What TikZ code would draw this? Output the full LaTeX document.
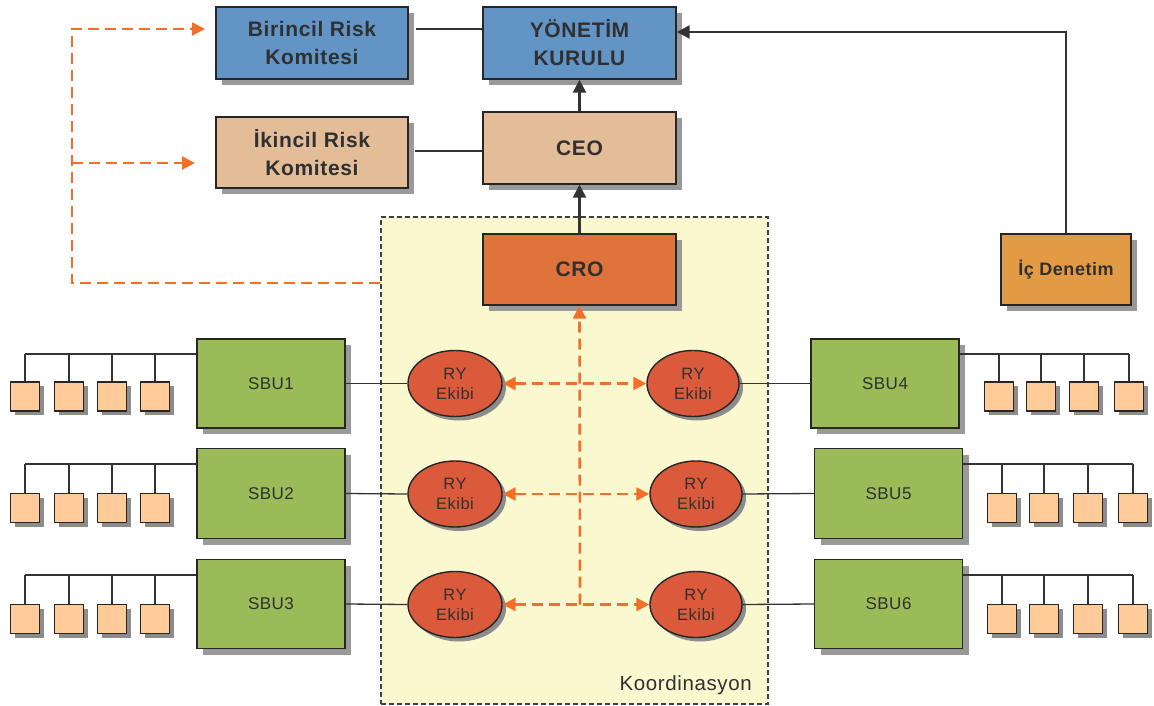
\documentclass[tikz,border=0pt]{standalone}
\usepackage{fontspec}
\setmainfont{Liberation Sans}[LetterSpace=3]
\usetikzlibrary{shadows,arrows.meta,shapes.geometric,calc}
\definecolor{cblue}{HTML}{6394C6}
\definecolor{cpeach}{HTML}{E3BD98}
\definecolor{ccro}{HTML}{DE733C}
\definecolor{cic}{HTML}{E29A45}
\definecolor{cgreen}{HTML}{9BBB59}
\definecolor{csq}{HTML}{FFCC99}
\definecolor{cell}{HTML}{DC5A3C}
\definecolor{cyel}{HTML}{FAF8CF}
\definecolor{corange}{HTML}{F26F2A}
\definecolor{ctext}{HTML}{303030}
\definecolor{cline}{HTML}{333333}
\tikzset{
  shad/.style={general shadow={shadow xshift=6pt,shadow yshift=-6pt,fill=black!40}},
  sshad/.style={general shadow={shadow xshift=4pt,shadow yshift=-4pt,fill=black!45}},
  topbox/.style={draw=black!85,line width=1.4pt,shad,text=ctext,align=center,
    font=\fontsize{21}{28}\selectfont\bfseries,inner sep=0pt},
  sbubox/.style={draw=black!85,line width=1.4pt,shad,fill=cgreen,text=ctext,
    font=\fontsize{17}{20}\selectfont,minimum width=148pt,inner sep=0pt},
  sq/.style={draw=black!85,line width=1.3pt,sshad,fill=csq,minimum width=29pt,minimum height=29pt,inner sep=0pt},
  ry/.style={ellipse,draw=black!85,line width=1.4pt,sshad,fill=cell,text=ctext,align=center,
    font=\fontsize{16.5}{20}\selectfont,minimum height=66pt,inner sep=0pt},
  conn/.style={draw=cline,line width=1.3pt},
  barrow/.style={draw=cline,line width=2.5pt,-{Triangle[length=13pt,width=13pt]}},
  odash/.style={draw=corange,line width=2.6pt,dash pattern=on 11pt off 6pt},
  otip/.style={-{Triangle[length=13pt,width=13pt]}},
}
\begin{document}
\begin{tikzpicture}[x=1pt,y=-1pt]
\useasboundingbox (0,0) rectangle (1154,706);
% coordination area
\node[draw=black!75,line width=1.3pt,dash pattern=on 5pt off 3pt,fill=cyel,
  minimum width=387pt,minimum height=487pt,inner sep=0pt] (koord) at (574.5,460.5) {};
\node[anchor=south east,text=ctext,font=\fontsize{20.5}{22}\selectfont,inner sep=0pt] (klab) at (752,695) {Koordinasyon};
% top nodes
\node[topbox,fill=cblue,minimum width=192pt,minimum height=72pt] (bir) at (312,43) {Birincil Risk\\Komitesi};
\node[topbox,fill=cblue,minimum width=193pt,minimum height=72pt] (yk) at (579.5,43) {YÖNETİM\\KURULU};
\node[topbox,fill=cpeach,minimum width=192pt,minimum height=71pt] (ik) at (312,152.5) {İkincil Risk\\Komitesi};
\node[topbox,fill=cpeach,minimum width=193pt,minimum height=72pt] (ceo) at (579.5,148) {CEO};
\node[topbox,fill=ccro,minimum width=193pt,minimum height=71pt] (cro) at (579.5,269.5) {CRO};
\node[topbox,fill=cic,minimum width=130pt,minimum height=71pt,font=\fontsize{18}{20}\selectfont\bfseries] (ic) at (1066,269.5) {İç Denetim};
% top connectors
\draw[conn] (bir.east |- 0,29) ++(7,0) coordinate (b1) -- (yk.west |- b1);
\draw[conn] (ik.east |- 0,151) ++(6,0) coordinate (b2) -- (yk.west |- b2);
\draw[barrow] (ceo.north) -- (yk.south);
\draw[barrow] (cro.north) -- (ceo.south);
\draw[barrow] (ic.north) |- (yk.east |- 0,32);
% orange dashed to committees
\coordinate (oS) at (koord.west |- 0,283);
\coordinate (oC) at (72,283);
\coordinate (oT) at (72,29);
\coordinate (oM) at (72,163);
\draw[odash,otip] (oS) -- (oC) -- (oT) -- (205,29) coordinate (oE1);
\draw[odash,otip] (oM) -- (195,163) coordinate (oE2);
% SBU boxes
\node[sbubox,minimum height=89pt] (sbuL1) at (271,383.5) {SBU1};
\node[sbubox,minimum height=90pt] (sbuL2) at (271,493.5) {SBU2};
\node[sbubox,minimum height=89pt] (sbuL3) at (271,604) {SBU3};
\node[sbubox,minimum height=89pt] (sbuR1) at (885,383.5) {SBU4};
\node[sbubox,minimum height=90pt] (sbuR2) at (888.5,493.5) {SBU5};
\node[sbubox,minimum height=89pt] (sbuR3) at (888.5,604) {SBU6};
% RY ellipses
\node[ry,minimum width=94pt] (eL1) at (455,383.5) {RY\\Ekibi};
\node[ry,minimum width=94pt] (eL2) at (455,494) {RY\\Ekibi};
\node[ry,minimum width=94pt] (eL3) at (455,604.5) {RY\\Ekibi};
\node[ry,minimum width=92pt] (eR1) at (693,383.5) {RY\\Ekibi};
\node[ry,minimum width=92pt] (eR2) at (696,494) {RY\\Ekibi};
\node[ry,minimum width=92pt] (eR3) at (696,604.5) {RY\\Ekibi};
\foreach \r in {1,2,3}{
  \draw[conn] (sbuL\r.east) -- (eL\r.west);
  \draw[conn] (eR\r.east) -- (sbuR\r.west);
}
% orange coordination arrows
\coordinate (vB) at (580,604.5);
\draw[odash,otip] (vB) -- (cro.south);
\foreach \r in {1,2,3}{
  \draw[odash,{Triangle[length=13pt,width=13pt]}-{Triangle[length=13pt,width=13pt]}] (eL\r.east) -- (eR\r.west);
}
% left small units
\foreach \r/\y/\by in {1/396.5/354,2/508/464,3/619/575}{
  \foreach \i/\x in {1/25,2/69,3/112,4/155}{
    \node[sq] (L\r\i) at (\x,\y) {};
    \draw[conn] (L\r\i.north) -- (L\r\i.north |- 0,\by);
  }
  \draw[conn] (L\r1.north |- 0,\by) -- (sbuL\r.west |- 0,\by);
}
% right small units
\foreach \r/\y/\by/\xa/\xb/\xc/\xd in {1/396.5/354/999/1041/1084/1129,2/508/464/1002/1044/1088/1133,3/619/575/1002/1044/1088/1133}{
  \foreach \i/\x in {1/\xa,2/\xb,3/\xc,4/\xd}{
    \node[sq] (R\r\i) at (\x,\y) {};
    \draw[conn] (R\r\i.north) -- (R\r\i.north |- 0,\by);
  }
  \draw[conn] (sbuR\r.east |- 0,\by) -- (R\r4.north |- 0,\by);
}
\end{tikzpicture}
\end{document}
